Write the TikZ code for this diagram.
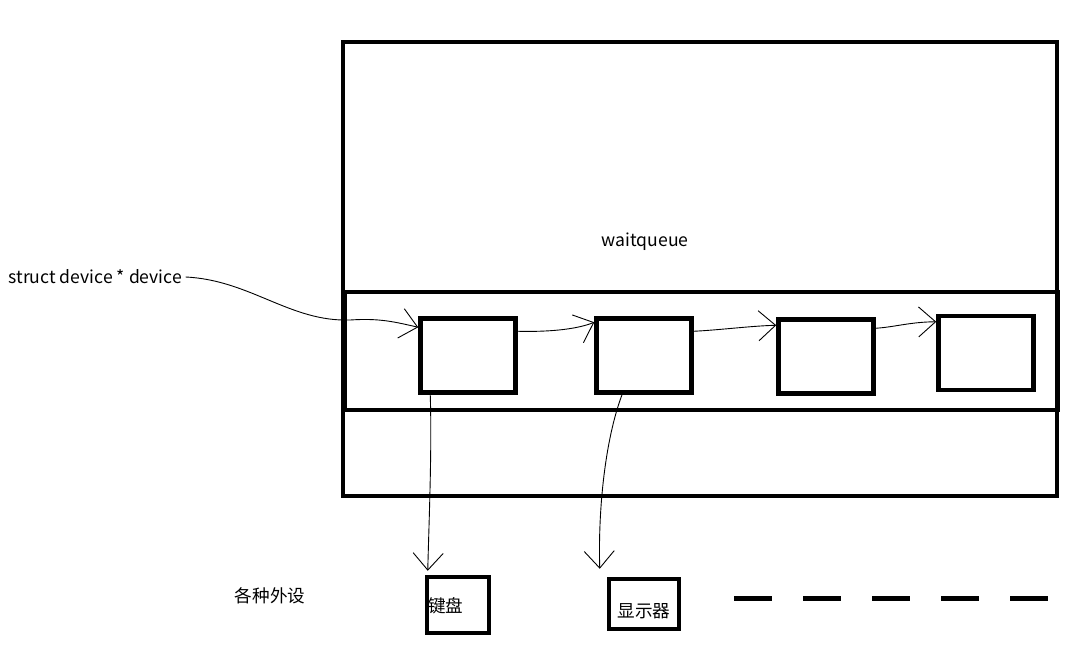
\documentclass[tikz,border=0pt]{standalone}
\usepackage{fontspec}
\setmainfont{Noto Sans CJK SC}
\usepackage{tikz}
\usetikzlibrary{arrows.meta, positioning}

\begin{document}
\begin{tikzpicture}[
          x=1pt, y=-1pt,
          every node/.style={align=center, font=\fontsize{17.6}{20}\selectfont},
          frame/.style={draw, line width=4.5pt, inner sep=0pt},
          devbox/.style={frame, minimum width=95pt, minimum height=74pt},
          arrow/.style={-{Straight Barb[length=17pt, width=30pt]}, line width=0.9pt}
        ]
          \useasboundingbox (0,0) rectangle (1083,654);

          % Big frame with the wait queue
          \node[frame, minimum width=714pt, minimum height=454pt] (queue) at (700,269) {};
          \node (wait) at (645,242) {waitqueue};
          \node[frame, minimum width=713pt, minimum height=118pt] (band) at (701.5,351) {};

          % Devices in the queue
          \node[devbox] (dev1) at (468,355.5) {};
          \node[devbox] (dev2) at (644,355.5) {};
          \node[devbox] (dev3) at (826,356.5) {};
          \node[devbox] (dev4) at (986,353) {};

          % Text on the left
          \node[anchor=west] (ptr) at (5,277) {struct device * device};

          % Peripherals at the bottom
          \node (periph) at (270,596) {各种外设};
          \node[frame, minimum width=62pt, minimum height=56pt] (kbd) at (458,605) {};
          \node[anchor=west, inner sep=0pt] (kbdtext) at (428,606) {键盘};
          \node[frame, minimum width=70pt, minimum height=50pt] (disp) at (644,604) {};
          \node (disptext) at (644,611) {显示器};
          \coordinate (more1) at (734,598);
          \coordinate (more2) at (1051,598);

          % Arrows
          \draw[arrow] (ptr.east) .. controls (250,280) and (290,322) .. (350,320)
                       .. controls (380,318) and (395,322) .. ([yshift=-11pt]dev1.north west);
          \draw[arrow] ([yshift=-15pt]dev1.north east) .. controls (545,332) and (575,330) .. ([yshift=-6pt]dev2.north west);
          \draw[arrow] ([yshift=-15pt]dev2.north east) .. controls (720,330) and (750,326) .. ([yshift=-8pt]dev3.north west);
          \draw[arrow] ([yshift=-11pt]dev3.north east) .. controls (895,327) and (910,322) .. ([yshift=-8pt]dev4.north west);
          \draw[arrow] ([xshift=12pt]dev1.south west) .. controls (432,450) and (429,520) .. ([xshift=3pt,yshift=4pt]kbd.north west);
          \draw[arrow] ([xshift=-22pt]dev2.south) .. controls (605,440) and (598,510) .. ([xshift=-7pt,yshift=8pt]disp.north west);

          % More devices
          \draw[line width=5pt, dash pattern=on 38pt off 31pt] (more1) -- (more2);
        \end{tikzpicture}
\end{document}
